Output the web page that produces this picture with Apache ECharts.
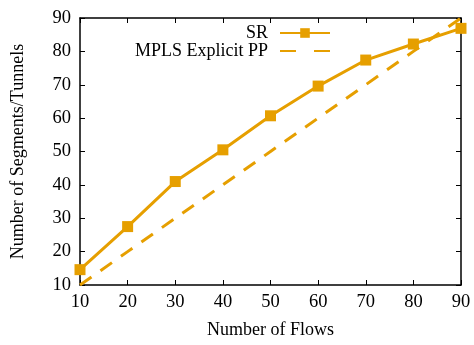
<!DOCTYPE html>
<html>
<head>
<meta charset="utf-8">
<script src="https://cdn.jsdelivr.net/npm/echarts@6/dist/echarts.min.js"></script>
<style>html,body{margin:0;padding:0;background:#fff}#c{width:474px;height:345px}</style>
</head>
<body>
<div id="c"></div>
<script>
const flows = [10, 20, 30, 40, 50, 60, 70, 80, 90];
const srValues = [14.6, 27.5, 41, 50.5, 60.7, 69.6, 77.4, 82.2, 86.9];
const mplsValues = [10, 20, 30, 40, 50, 60, 70, 80, 90];
const seriesNames = ['SR', 'MPLS Explicit PP'];
const xTitle = 'Number of Flows';
const yTitle = 'Number of Segments/Tunnels';

const color = '#E69F00';
const font = 'Liberation Serif';
const chart = echarts.init(document.getElementById('c'), null, {renderer: 'canvas'});
const pairs = (xs, ys) => xs.map((x, i) => [x, ys[i]]);
const axisCommon = {
  type: 'value', min: 10, max: 90, interval: 10,
  axisLine: {show: true, lineStyle: {color: '#000', width: 1.5}},
  axisTick: {show: true, inside: true, length: 5, lineStyle: {color: '#000', width: 1}},
  splitLine: {show: false}
};
chart.setOption({
  animation: false,
  grid: {left: 80, right: 13, top: 18, bottom: 60, containLabel: false},
  legend: {
    orient: 'vertical', right: 138, top: 19, align: 'right',
    itemWidth: 50, itemHeight: 12, itemGap: 0,
    textStyle: {fontFamily: font, fontSize: 18, color: '#000', padding: [0, 7, 0, 0]},
    data: [
      {name: seriesNames[0]},
      {name: seriesNames[1], itemStyle: {opacity: 0}, lineStyle: {type: [16, 18]}}
    ]
  },
  xAxis: [
    Object.assign({}, axisCommon, {
      position: 'bottom',
      name: xTitle, nameLocation: 'middle', nameGap: 36,
      nameTextStyle: {fontFamily: font, fontSize: 18, color: '#000'},
      axisLabel: {fontFamily: font, fontSize: 18.5, color: '#000', margin: 8}
    }),
    Object.assign({}, axisCommon, {position: 'top', axisLabel: {show: false}})
  ],
  yAxis: [
    Object.assign({}, axisCommon, {
      position: 'left',
      name: yTitle, nameLocation: 'middle', nameGap: 53,
      nameTextStyle: {fontFamily: font, fontSize: 18, color: '#000'},
      axisLabel: {fontFamily: font, fontSize: 18.5, color: '#000', margin: 9}
    }),
    Object.assign({}, axisCommon, {position: 'right', axisLabel: {show: false}})
  ],
  series: [
    {
      name: seriesNames[0], type: 'line', data: pairs(flows, srValues),
      symbol: 'rect', symbolSize: 11,
      lineStyle: {color: color, width: 3},
      itemStyle: {color: color}
    },
    {
      name: seriesNames[1], type: 'line', data: pairs(flows, mplsValues),
      symbol: 'none',
      lineStyle: {color: color, width: 3, type: [14, 11]},
      itemStyle: {color: color}
    }
  ]
});
</script>
</body>
</html>
